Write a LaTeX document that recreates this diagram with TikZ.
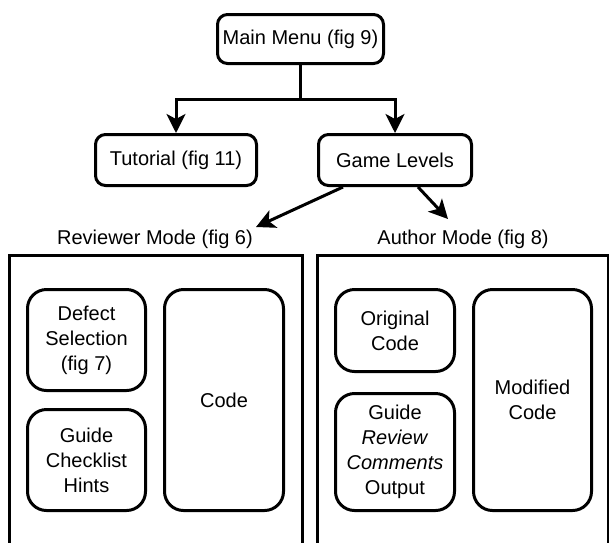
\documentclass[tikz,border=0pt]{standalone}
\usepackage{fontspec}
\setmainfont{Liberation Sans}
\usetikzlibrary{arrows.meta}
\begin{document}
\begin{tikzpicture}[x=1pt,y=-1pt,
  txt/.style={font=\fontsize{20}{25}\selectfont, align=center},
  box/.style={txt, draw, line width=3pt, rounded corners=10pt, inner sep=0pt},
  panel/.style={txt, draw, line width=3pt, rounded corners=19pt, inner sep=0pt},
  frame/.style={draw, line width=3pt, inner sep=0pt},
  link/.style={line width=3pt, -{Stealth[length=19pt,width=19pt,inset=5pt]}}
]
\useasboundingbox (0,0) rectangle (609,542);

% top level menu
\node[box, minimum width=166pt, minimum height=49pt] (main) at (300.5,39) {Main Menu (fig 9)};
\node[box, minimum width=161pt, minimum height=51pt] (tut) at (176,160) {Tutorial (fig 11)};
\node[box, minimum width=153pt, minimum height=51pt] (game) at (395,160) {Game Levels};

\coordinate (split) at (300.5,99);
\draw[line width=3pt] (main.south) -- (split);
\draw[link] (split) -| (tut.north);
\draw[link] (split) -| (game.north);

% mode headings
\node[txt, anchor=base] (revlbl) at (155,244) {Reviewer Mode (fig 6)};
\node[txt, anchor=base] (autlbl) at (463,244) {Author Mode (fig 8)};

\coordinate (revtip) at (256,227);
\coordinate (auttip) at (448,219);
\draw[link] ([xshift=-52pt]game.south) -- (revtip);
\draw[link] ([xshift=23pt]game.south) -- (auttip);

% mode screens (run off the bottom edge)
\node[frame, minimum width=293pt, minimum height=320pt, anchor=north] (rev) at (155.5,254) {};
\node[frame, minimum width=291pt, minimum height=320pt, anchor=north] (aut) at (462.5,254) {};

% reviewer mode panels
\node[panel, minimum width=118pt, minimum height=101pt] (defect) at (86.5,340) {Defect\\Selection\\(fig 7)};
\node[panel, minimum width=118pt, minimum height=101pt] (guide) at (86.5,460) {Guide\\Checklist\\Hints};
\node[panel, minimum width=119pt, minimum height=221pt] (code) at (224,400) {Code};

% author mode panels
\node[panel, minimum width=119pt, minimum height=82pt] (orig) at (395,330.5) {Original\\Code};
\node[panel, minimum width=119pt, minimum height=117pt] (review) at (395,452) {Guide\\\textit{Review}\\\textit{Comments}\\Output};
\node[panel, minimum width=118pt, minimum height=221pt] (mod) at (532.5,400) {Modified\\Code};
\end{tikzpicture}
\end{document}
